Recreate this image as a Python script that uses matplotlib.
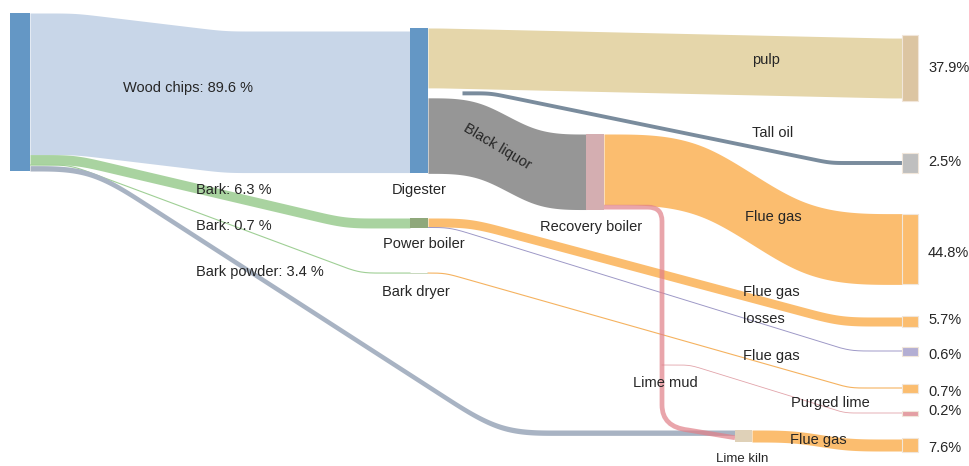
import numpy as np
import matplotlib.pyplot as plt
from matplotlib.path import Path
from matplotlib.patches import PathPatch, Rectangle

plt.rcParams['font.family'] = ['Liberation Sans', 'DejaVu Sans']

# ---- data: energy flows in a kraft pulp mill, % of input ----
link_src = ['Input', 'Input', 'Input', 'Input',
            'Digester', 'Digester', 'Digester',
            'Recovery boiler', 'Recovery boiler',
            'Power boiler', 'Power boiler', 'Bark dryer',
            'Lime mud split', 'Lime kiln']
link_dst = ['Digester', 'Power boiler', 'Bark dryer', 'Lime kiln',
            'out_pulp', 'out_talloil', 'Recovery boiler',
            'out_fg_rb', 'Lime kiln',
            'out_fg_pb', 'out_losses', 'out_fg_bd',
            'out_purged', 'out_fg_lk']
link_values = [89.6, 6.3, 0.7, 3.4,
               37.9, 2.5, 47.8,
               44.8, 3.0,
               5.7, 0.6, 0.7,
               0.2, 7.6]
link_labels = ['Wood chips: 89.6 %', 'Bark: 6.3 %', 'Bark: 0.7 %', 'Bark powder: 3.4 %',
               'pulp', 'Tall oil', 'Black liquor',
               'Flue gas', 'Lime mud',
               'Flue gas', 'losses', 'Flue gas',
               'Purged lime', 'Flue gas']
process_nodes = ['Digester', 'Power boiler', 'Bark dryer', 'Recovery boiler', 'Lime kiln']
end_nodes = ['out_pulp', 'out_talloil', 'out_fg_rb', 'out_fg_pb',
             'out_losses', 'out_fg_bd', 'out_purged', 'out_fg_lk']
end_shares = [37.9, 2.5, 44.8, 5.7, 0.6, 0.7, 0.2, 7.6]

# ---- layout (pixels, y grows downwards) ----
SCALE = 1.58      # px per %
END_X, END_W = 902, 16
FS = 10.5
nodes = {
    'Input':           dict(x=10,  w=20, in_top=13,    out_top=13,     gap=0, color='#6497c5'),
    'Digester':        dict(x=410, w=18, in_top=31,    out_top=28,     gap=3, color='#6497c5'),
    'Power boiler':    dict(x=410, w=18, in_top=218,   out_top=218,    gap=0, color='#8fa87b'),
    'Bark dryer':      dict(x=410, w=18, in_top=272.5, out_top=272.5,  gap=0, color='#c9d9bf'),
    'Recovery boiler': dict(x=586, w=18, in_top=134,   out_top=134,    gap=0, color='#d4aeb1'),
    'Lime kiln':       dict(x=735, w=17, in_top=430,   out_top=430,    gap=0, color='#dfd1b8'),
    'Lime mud split':  dict(x=662, w=0,  in_top=365,   out_top=364.85, gap=0, color=None),
}
ends = {
    'out_pulp':    dict(cy=68,    min_h=66, color='#dcc5a2', dy=0),
    'out_talloil': dict(cy=162.5, min_h=20, color='#bfbfbf', dy=-1),
    'out_fg_rb':   dict(cy=249,   min_h=0,  color='#fbbd6f', dy=4),
    'out_fg_pb':   dict(cy=321.5, min_h=11, color='#fbbd6f', dy=-2),
    'out_losses':  dict(cy=351,   min_h=9,  color='#b3aed3', dy=4),
    'out_fg_bd':   dict(cy=388,   min_h=9,  color='#fbbd6f', dy=4),
    'out_purged':  dict(cy=413,   min_h=5,  color='#e49fa4', dy=-2),
    'out_fg_lk':   dict(cy=445,   min_h=14, color='#fbbd6f', dy=3),
}
# (start of bend, end of bend, rounding) per link; None = routed by hand
shapes = [(75, 225, 25), (75, 345, 30), (70, 360, 20), (90, 500, 55),
          (440, 890, 8), (490, 830, 15), (485, 530, 55),
          (705, 800, 95), None,
          (470, 840, 35), (450, 850, 20), (445, 850, 15),
          (690, 845, 12), (800, 840, 45)]
link_start = {5: 462}   # tall oil comes out from under the pulp stream
link_colors = ['#c8d6e8', '#a9d3a0', '#9fcf95', '#a8b3c3',
               '#e5d6aa', '#7a8c9d', '#969696',
               '#fbbd6f', '#e07f88',
               '#fbbd6f', '#9c97c6', '#f5b25f',
               '#e2a4aa', '#fbbd6f']
label_pos = [(123, 88, 'left', 0), (196, 190, 'left', 0), (196, 226, 'left', 0), (196, 272, 'left', 0),
             (766, 60, 'center', 0), (773, 133, 'center', 0), (497, 147, 'center', -31),
             (773, 217, 'center', 0), (665, 383, 'center', 0),
             (771, 292, 'center', 0), (764, 319, 'center', 0), (771, 356, 'center', 0),
             (830, 403, 'center', 0), (818, 440, 'center', 0)]
node_label_pos = {'Digester': (419, 190, 'center'), 'Power boiler': (424, 244, 'center'),
                  'Bark dryer': (382, 292, 'left'), 'Recovery boiler': (591, 227, 'center'),
                  'Lime kiln': (742, 459, 'center')}
TXT = '#262626'


def edge_curve(x0, x1, y0, y1, xa, xb, r):
    xs = np.arange(x0, x1 + 0.25, 0.5)
    ys = np.interp(xs, [x0, xa, xb, x1], [y0, y0, y1, y1])
    k = max(int(round(r)), 1)   # two box passes of r/2 px each
    kernel = np.ones(2 * k + 1) / (2 * k + 1)
    for _ in range(2):
        ys = np.convolve(np.pad(ys, k, mode='edge'), kernel, mode='valid')
    return xs, ys


fig = plt.figure(figsize=(9.69, 4.66), dpi=100)
ax = fig.add_axes([0, 0, 1, 1])
ax.set_xlim(0, 969)
ax.set_ylim(466, 0)
ax.axis('off')

out_cur = {n: d['out_top'] for n, d in nodes.items()}
in_cur = {n: d['in_top'] for n, d in nodes.items()}

for i, (s, d, v) in enumerate(zip(link_src, link_dst, link_values)):
    w = v * SCALE
    x0 = link_start.get(i, nodes[s]['x'] + nodes[s]['w'])
    y0 = out_cur[s]
    out_cur[s] += w + nodes[s]['gap']
    if d in ends:
        x1, y1 = END_X, ends[d]['cy'] - w / 2
    else:
        x1, y1 = nodes[d]['x'], in_cur[d]
        in_cur[d] += w
    col = link_colors[i]
    tx, ty, ha, rot = label_pos[i]
    ax.text(tx, ty, link_labels[i], ha=ha, va='center', rotation=rot,
            fontsize=FS, color=TXT, zorder=6)
    if shapes[i] is None:
        # lime mud: right, down the side, into the lime kiln
        yc0, yc1 = y0 + w / 2, y1 + w / 2
        verts = [(x0, yc0), (648, yc0), (662, yc0), (662, yc0 + 14),
                 (662, 405), (662, 427), (688, 430), (x1, yc1)]
        codes = [Path.MOVETO, Path.LINETO, Path.CURVE3, Path.CURVE3,
                 Path.LINETO, Path.CURVE3, Path.CURVE3, Path.LINETO]
        ax.add_patch(PathPatch(Path(verts, codes), fill=False, edgecolor=col,
                               lw=w * 0.72, alpha=0.7, capstyle='butt', zorder=3))
        continue
    xa, xb, r = shapes[i]
    xs, ys = edge_curve(x0, x1, y0, y1, xa, xb, r)
    if w >= 2:
        ax.fill_between(xs, ys, ys + w, color=col, lw=0, zorder=2)
    else:
        ax.plot(xs, ys + w / 2, color=col, lw=max(w * 0.72, 0.6), zorder=2)

# process nodes
for n, d in nodes.items():
    if d['color'] is None:
        continue
    top = min(d['in_top'], d['out_top'])
    bot = max(in_cur[n], out_cur[n] - d['gap'])
    ax.add_patch(Rectangle((d['x'], top), d['w'], bot - top, color=d['color'], lw=0, zorder=4))
for n, (tx, ty, ha) in node_label_pos.items():
    ax.text(tx, ty, n, ha=ha, va='center', fontsize=FS - 1 if n == 'Lime kiln' else FS,
            color=TXT, zorder=6)

# end nodes with shares
for n, share in zip(end_nodes, end_shares):
    e = ends[n]
    h = max(share * SCALE, e['min_h'])
    ax.add_patch(Rectangle((END_X, e['cy'] - h / 2), END_W, h, facecolor=e['color'],
                           edgecolor='#f1e6da', lw=0.8, zorder=4))
    ax.text(928, e['cy'] + e['dy'], f'{share}%', ha='left', va='center',
            fontsize=FS, color=TXT, zorder=6)

fig.savefig('out.png', dpi=100)
